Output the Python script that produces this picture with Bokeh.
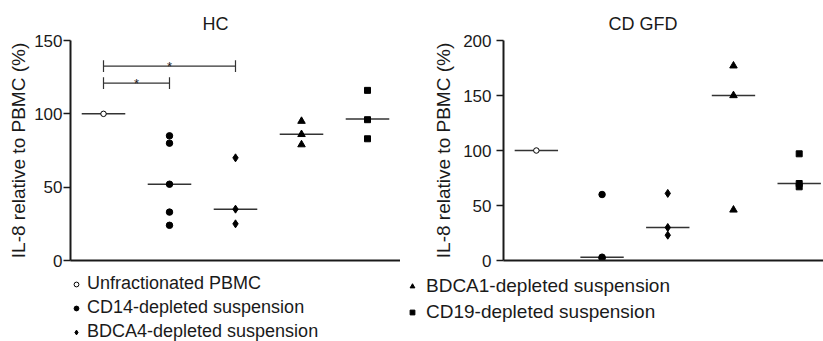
from bokeh.plotting import figure
from bokeh.layouts import row, column
from bokeh.models import Range1d, Legend, LegendItem, FixedTicker, Title
from bokeh.core.properties import value
from bokeh.embed import file_html
from bokeh.resources import INLINE

FONT = "Liberation Sans"

categories = ["Unfractionated PBMC", "CD14-depleted suspension", "BDCA4-depleted suspension",
              "BDCA1-depleted suspension", "CD19-depleted suspension"]
positions = [1, 2, 3, 4, 5]

# HC panel values (% relative to PBMC)
hc_pbmc = [100]
hc_cd14 = [85, 80, 52, 33, 24]
hc_bdca4 = [70, 35, 25]
hc_bdca1 = [95, 86, 79]
hc_cd19 = [116, 96, 83]
hc_medians = [100, 52, 35, 86, 96.5]

# CD GFD panel values
gfd_pbmc = [100]
gfd_cd14 = [60, 3, 2]
gfd_bdca4 = [61, 30, 23]
gfd_bdca1 = [177, 150, 46]
gfd_cd19 = [97, 70, 67]
gfd_medians = [100, 3, 30, 150, 70]

# significance brackets in HC panel: (from, to, level)
hc_sig_from = [1, 1]
hc_sig_to = [2, 3]
hc_sig_y = [121, 132.5]
hc_sig_text = ["*", "*"]

markers = ["circle", "circle", "diamond", "triangle", "square"]
sizes = [5.5, 6.5, 8, 7.5, 6]
fills = ["white", "black", "black", "black", "black"]

INK = "#1a1a1a"


def make_panel(title, series, medians, ymax, yticks, width, xmax, border_left,
               title_offset, label_standoff, tick_standoff):
    p = figure(width=width, height=272, x_range=Range1d(0.5, xmax), y_range=Range1d(0, ymax),
               output_backend="svg", toolbar_location=None,
               min_border_left=border_left, min_border_right=0,
               min_border_top=40, min_border_bottom=12)
    p.outline_line_color = None
    p.xgrid.visible = False
    p.ygrid.visible = False
    p.background_fill_color = "white"
    p.border_fill_color = "white"

    p.title = Title(text=title, align="left", offset=title_offset, standoff=14, text_font=FONT,
                    text_font_size="18px", text_font_style="normal", text_color=INK)

    # axes
    p.yaxis.ticker = FixedTicker(ticks=yticks)
    p.yaxis.minor_tick_line_color = None
    p.yaxis.major_tick_in = 0
    p.yaxis.major_tick_out = 7
    p.yaxis.major_tick_line_width = 1.5
    p.yaxis.major_tick_line_color = INK
    p.yaxis.axis_line_width = 2
    p.yaxis.axis_line_color = INK
    p.yaxis.major_label_text_font = FONT
    p.yaxis.major_label_text_font_size = "17px"
    p.yaxis.major_label_text_color = INK
    p.yaxis.major_label_standoff = tick_standoff
    p.yaxis.axis_label = "IL-8 relative to PBMC (%)"
    p.yaxis.axis_label_text_font = FONT
    p.yaxis.axis_label_text_font_size = "19px"
    p.yaxis.axis_label_text_font_style = "normal"
    p.yaxis.axis_label_text_color = INK
    p.yaxis.axis_label_standoff = label_standoff

    p.xaxis.ticker = FixedTicker(ticks=[])
    p.xaxis.minor_tick_line_color = None
    p.xaxis.major_tick_line_color = None
    p.xaxis.axis_line_width = 2
    p.xaxis.axis_line_color = INK
    p.xaxis.major_label_text_font_size = "0px"

    # median lines
    p.segment(x0=[x - 0.33 for x in positions], x1=[x + 0.33 for x in positions],
              y0=medians, y1=medians, line_color="#333333", line_width=1.5)

    for i, vals in enumerate(series):
        p.scatter(x=[positions[i]] * len(vals), y=vals, marker=markers[i], size=sizes[i],
                  fill_color=fills[i], line_color="black", line_width=1)
    return p


p1 = make_panel("HC", [hc_pbmc, hc_cd14, hc_bdca4, hc_bdca1, hc_cd19], hc_medians,
                150, [0, 50, 100, 150], 400, 5.5, 70, 132, 2, 1)

# significance brackets
for a, b, yv, t in zip(hc_sig_from, hc_sig_to, hc_sig_y, hc_sig_text):
    p1.segment(x0=[a, a, b], x1=[b, a, b], y0=[yv, yv - 4, yv - 4], y1=[yv, yv + 4, yv + 4],
               line_color="#333333", line_width=1.2)
    p1.text(x=[(a + b) / 2], y=[yv], text=[t], text_font=value(FONT), text_font_size="13px",
            text_align="center", text_baseline="middle", text_color=INK)

p2 = make_panel("CD GFD", [gfd_pbmc, gfd_cd14, gfd_bdca4, gfd_bdca1, gfd_cd19], gfd_medians,
                200, [0, 50, 100, 150, 200], 423, 5.37, 103, 105, 6, 5)

# legend strip below both panels
lg = figure(width=823, height=69, x_range=Range1d(0, 1), y_range=Range1d(0, 1),
            output_backend="svg", toolbar_location=None,
            x_axis_location=None, y_axis_location=None,
            min_border_left=0, min_border_right=0, min_border_top=0, min_border_bottom=0)
lg.outline_line_color = None
lg.xgrid.visible = False
lg.ygrid.visible = False
nan = float("nan")
legend_renderers = [lg.scatter(x=[nan], y=[nan], marker=markers[i], size=5,
                               fill_color=fills[i], line_color="black", line_width=1)
                    for i in range(5)]


def make_legend(idx, loc, standoff, font_size, spacing):
    return Legend(items=[LegendItem(label=categories[i], renderers=[legend_renderers[i]]) for i in idx],
                  location=loc, orientation="vertical",
                  border_line_color=None, background_fill_alpha=0, padding=0, margin=0,
                  spacing=spacing, glyph_width=12, glyph_height=12, label_standoff=standoff,
                  label_text_font=FONT, label_text_font_size=font_size, label_height=20,
                  label_text_color=INK)


lg.add_layout(make_legend([0, 1, 2], (70, -1), 5, "18px", 3))
lg.add_layout(make_legend([3, 4], (406, 18), 8, "19px", 4))

layout = column(row(p1, p2, spacing=0), lg, spacing=0)
open("out.html", "w").write(file_html(layout, INLINE))
